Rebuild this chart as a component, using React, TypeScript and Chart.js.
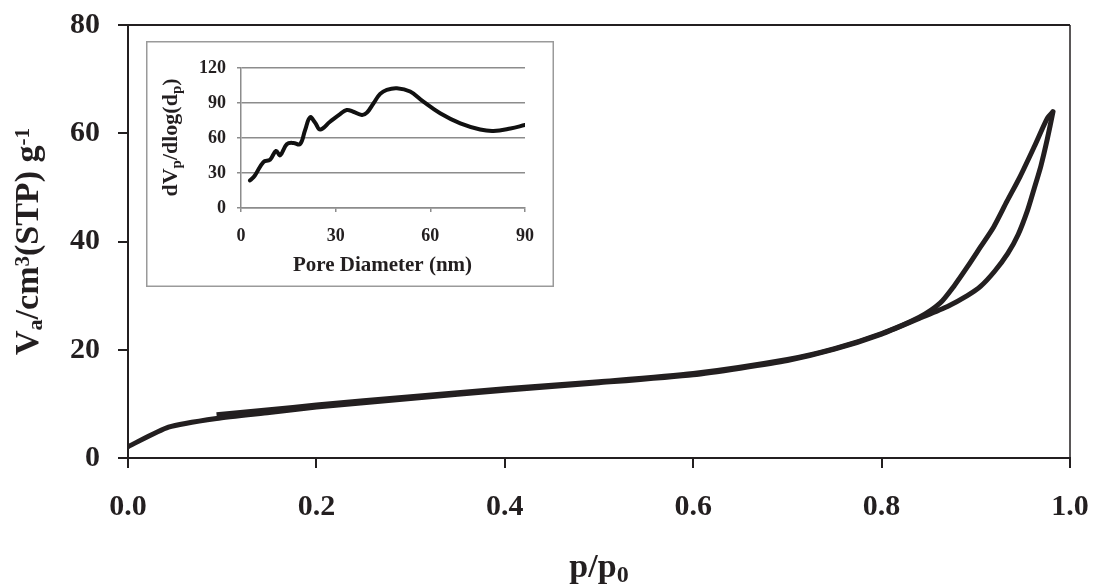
import React, { useEffect, useRef } from "react";
import { Chart, registerables } from "chart.js";
Chart.register(...registerables);

const FONT = '"Liberation Serif", "Times New Roman", serif';
const INK = "#231f20";
const GRID = "#8c8c8c";

// Main isotherm
const X_TICKS = [0, 0.2, 0.4, 0.6, 0.8, 1.0];
const Y_TICKS = [0, 20, 40, 60, 80];
const ADS_P = [0, 0.043, 0.094, 0.15, 0.2, 0.3, 0.4, 0.5, 0.6, 0.65, 0.7, 0.75, 0.8, 0.84, 0.87, 0.891, 0.905, 0.92, 0.934, 0.945, 0.955, 0.962, 0.969, 0.976, 0.982];
const ADS_V = [2.1, 5.7, 7.3, 8.4, 9.4, 11.0, 12.5, 13.9, 15.4, 16.6, 18.0, 20.1, 22.9, 25.8, 28.0, 30.0, 31.7, 34.5, 37.8, 41.3, 45.8, 49.8, 53.9, 59.0, 64.0];
const DES_P = [0.982, 0.976, 0.962, 0.947, 0.933, 0.919, 0.905, 0.891, 0.877, 0.862, 0.84, 0.8, 0.75, 0.7, 0.6, 0.5, 0.4, 0.3, 0.2, 0.15, 0.094];
const DES_V = [64.0, 62.8, 57.5, 52.0, 47.4, 42.7, 39.0, 35.3, 31.8, 28.6, 26.0, 23.0, 20.2, 18.2, 15.6, 14.1, 12.8, 11.3, 9.8, 8.9, 8.0];

// Inset pore size distribution
const INSET_X_TICKS = [0, 30, 60, 90];
const INSET_Y_TICKS = [0, 30, 60, 90, 120];
const PORE_D = [2.85, 4.4, 7.1, 9.2, 11.1, 12.4, 14.5, 16.6, 18.7, 20.3, 21.9, 23.5, 25.1, 28.2, 31.4, 33.5, 35.6, 38.3, 39.9, 42.0, 44.1, 46.2, 49.4, 53.6, 57.8, 63.1, 69.5, 75.8, 80.0, 85.4, 90.0];
const DVDLOGD = [23.6, 27.9, 39.4, 41.4, 48.9, 45.2, 54.7, 55.8, 54.7, 66.7, 77.7, 73.1, 67.3, 73.9, 80.5, 84.0, 82.5, 79.7, 81.7, 89.8, 97.8, 101.3, 102.7, 99.8, 91.2, 81.2, 72.5, 67.3, 66.1, 68.2, 71.1];

type Part = { t: string; size: number; dy?: number };

function drawRich(ctx: CanvasRenderingContext2D, parts: Part[], x: number, y: number, rot: number, color: string) {
  ctx.save();
  ctx.translate(x, y);
  ctx.rotate(rot);
  ctx.fillStyle = color;
  ctx.textBaseline = "alphabetic";
  ctx.textAlign = "left";
  let total = 0;
  const widths = parts.map((p) => {
    ctx.font = `bold ${p.size}px ${FONT}`;
    const w = ctx.measureText(p.t).width;
    total += w;
    return w;
  });
  let cx = -total / 2;
  parts.forEach((p, i) => {
    ctx.font = `bold ${p.size}px ${FONT}`;
    ctx.fillText(p.t, cx, p.dy || 0);
    cx += widths[i];
  });
  ctx.restore();
}

const zeroPad = (s: any) => {
  s.paddingTop = 0;
  s.paddingBottom = 0;
  s.paddingLeft = 0;
  s.paddingRight = 0;
};

export default function App() {
  const mainRef = useRef<HTMLCanvasElement>(null);
  const insetRef = useRef<HTMLCanvasElement>(null);

  useEffect(() => {
    const mainPlugin = {
      id: "mainDecor",
      beforeDraw(chart: any) {
        const ctx = chart.ctx;
        ctx.save();
        ctx.fillStyle = "#fff";
        ctx.fillRect(0, 0, chart.width, chart.height);
        ctx.restore();
      },
      afterDraw(chart: any) {
        const ctx = chart.ctx;
        const a = chart.chartArea;
        ctx.save();
        ctx.strokeStyle = INK;
        ctx.lineWidth = 2;
        ctx.beginPath();
        ctx.moveTo(a.left - 1, a.top);
        ctx.lineTo(a.right, a.top);
        ctx.stroke();
        ctx.lineWidth = 1.5;
        ctx.beginPath();
        ctx.moveTo(a.right, a.top);
        ctx.lineTo(a.right, a.bottom);
        ctx.stroke();
        ctx.restore();
        drawRich(ctx, [{ t: "p/p", size: 34 }, { t: "0", size: 24, dy: 5 }], 599, 576.5, 0, INK);
        drawRich(
          ctx,
          [
            { t: "V", size: 34 },
            { t: "a", size: 22, dy: 4 },
            { t: "/cm", size: 34 },
            { t: "3", size: 21, dy: -9 },
            { t: "(STP) g", size: 34 },
            { t: "-1", size: 21, dy: -9 },
          ],
          37.5,
          241.5,
          -Math.PI / 2,
          INK
        );
      },
    };

    const tickFont = { family: FONT, size: 30, weight: "bold" as const };
    const main = new Chart(mainRef.current!, {
      type: "scatter",
      data: {
        datasets: [
          {
            data: ADS_P.map((p, i) => ({ x: p, y: ADS_V[i] })),
            showLine: true,
            borderColor: INK,
            borderWidth: 5,
            pointRadius: 0,
            tension: 0.2,
            borderCapStyle: "round",
            borderJoinStyle: "round",
          },
          {
            data: DES_P.map((p, i) => ({ x: p, y: DES_V[i] })),
            showLine: true,
            borderColor: INK,
            borderWidth: 5,
            pointRadius: 0,
            tension: 0.25,
            borderCapStyle: "butt",
            borderJoinStyle: "round",
          },
        ],
      },
      options: {
        responsive: false,
        animation: false,
        devicePixelRatio: 1,
        layout: { padding: { top: 25, right: 23, left: 0, bottom: 0 } },
        plugins: { legend: { display: false }, tooltip: { enabled: false } },
        scales: {
          x: {
            type: "linear",
            min: 0,
            max: 1,
            afterBuildTicks: (s: any) => {
              s.ticks = X_TICKS.map((v) => ({ value: v }));
            },
            afterFit: (s: any) => {
              s.height = 129;
              zeroPad(s);
            },
            ticks: {
              callback: (v: any) => Number(v).toFixed(1),
              font: tickFont,
              color: INK,
              padding: 21,
              maxRotation: 0,
              autoSkip: false,
            },
            grid: { drawOnChartArea: false, drawTicks: true, tickLength: 10, color: INK, lineWidth: 2 },
            border: { display: true, color: INK, width: 2 },
          },
          y: {
            type: "linear",
            min: 0,
            max: 80,
            afterBuildTicks: (s: any) => {
              s.ticks = Y_TICKS.map((v) => ({ value: v }));
            },
            afterFit: (s: any) => {
              s.width = 128;
              zeroPad(s);
            },
            ticks: { font: tickFont, color: INK, padding: 18 },
            grid: { drawOnChartArea: false, drawTicks: true, tickLength: 10, color: INK, lineWidth: 2 },
            border: { display: true, color: INK, width: 2 },
          },
        },
      },
      plugins: [mainPlugin],
    } as any);

    const insetPlugin = {
      id: "insetDecor",
      beforeDraw(chart: any) {
        const ctx = chart.ctx;
        ctx.save();
        ctx.fillStyle = "#fff";
        ctx.fillRect(0, 0, chart.width, chart.height);
        ctx.restore();
      },
      afterDraw(chart: any) {
        const ctx = chart.ctx;
        ctx.save();
        ctx.strokeStyle = "#9a9a9a";
        ctx.lineWidth = 1.5;
        ctx.strokeRect(0.75, 0.75, chart.width - 1.5, chart.height - 1.5);
        ctx.restore();
        drawRich(ctx, [{ t: "Pore Diameter (nm)", size: 21 }], 236.5, 230, 0, INK);
        drawRich(
          ctx,
          [
            { t: "dV", size: 22 },
            { t: "p", size: 15, dy: 4 },
            { t: "/dlog(d", size: 22 },
            { t: "p", size: 15, dy: 4 },
            { t: ")", size: 22 },
          ],
          31,
          96.5,
          -Math.PI / 2,
          INK
        );
      },
    };

    const insetFont = { family: FONT, size: 18, weight: "bold" as const };
    const inset = new Chart(insetRef.current!, {
      type: "scatter",
      data: {
        datasets: [
          {
            data: PORE_D.map((d, i) => ({ x: d, y: DVDLOGD[i] })),
            showLine: true,
            borderColor: "#111",
            borderWidth: 4,
            pointRadius: 0,
            tension: 0.4,
            borderCapStyle: "round",
            borderJoinStyle: "round",
          },
        ],
      },
      options: {
        responsive: false,
        animation: false,
        devicePixelRatio: 1,
        layout: { padding: { top: 27, right: 29, left: 0, bottom: 0 } },
        plugins: { legend: { display: false }, tooltip: { enabled: false } },
        scales: {
          x: {
            type: "linear",
            min: 0,
            max: 90,
            afterBuildTicks: (s: any) => {
              s.ticks = INSET_X_TICKS.map((v) => ({ value: v }));
            },
            afterFit: (s: any) => {
              s.height = 79;
              zeroPad(s);
            },
            ticks: { font: insetFont, color: INK, padding: 14, maxRotation: 0, autoSkip: false },
            grid: { drawOnChartArea: false, drawTicks: true, tickLength: 4, color: GRID, lineWidth: 1.5 },
            border: { display: true, color: GRID, width: 1.5 },
          },
          y: {
            type: "linear",
            min: 0,
            max: 120,
            afterBuildTicks: (s: any) => {
              s.ticks = INSET_Y_TICKS.map((v) => ({ value: v }));
            },
            afterFit: (s: any) => {
              s.width = 95;
              zeroPad(s);
            },
            ticks: { font: insetFont, color: INK, padding: 11 },
            grid: { drawOnChartArea: true, drawTicks: true, tickLength: 4, color: GRID, lineWidth: 1.5 },
            border: { display: true, color: GRID, width: 1.5 },
          },
        },
      },
      plugins: [insetPlugin],
    } as any);

    return () => {
      main.destroy();
      inset.destroy();
    };
  }, []);

  return (
    <div style={{ position: "fixed", left: 0, top: 0, width: 1093, height: 587, background: "#fff" }}>
      <canvas ref={mainRef} width={1093} height={587} style={{ position: "absolute", left: 0, top: 0 }} />
      <canvas ref={insetRef} width={408} height={246} style={{ position: "absolute", left: 146, top: 41 }} />
    </div>
  );
}
